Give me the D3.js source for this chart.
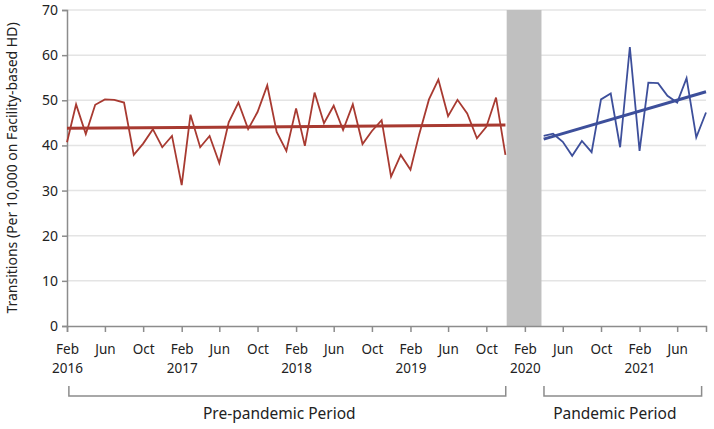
<!DOCTYPE html>
<html>
<head>
<meta charset="utf-8">
<script src="https://cdn.jsdelivr.net/npm/d3@7"></script>
<style>
  body { margin: 0; background: #fff; }
  svg text { font-family: "Noto Sans", "Open Sans", sans-serif; fill: #222; }
</style>
</head>
<body>
<svg width="714" height="429"></svg>
<script>
// monthly values, Feb 2016 .. Dec 2019
const preStart = "2016-02";
const preValues = [40.7, 49.1, 42.5, 49.0, 50.2, 50.1, 49.5, 37.9, 40.4, 43.6, 39.6, 42.1,
  31.2, 46.8, 39.6, 42.1, 36.1, 45.1, 49.5, 43.6, 47.4, 53.3, 43.0, 38.8,
  48.2, 39.9, 51.7, 44.9, 48.8, 43.4, 49.1, 40.3, 43.2, 45.6, 33.1, 37.9,
  34.6, 42.5, 50.2, 54.6, 46.5, 50.1, 47.1, 41.6, 44.1, 50.6, 37.9];
const preTrend = [43.8, 44.5];

// monthly values, Apr 2020 .. Sep 2021
const panStart = "2020-04";
const panValues = [42.1, 42.6, 40.8, 37.7, 41.0, 38.5, 50.2, 51.5, 39.6, 61.8, 38.8, 53.9,
  53.8, 51.0, 49.5, 54.9, 41.8, 47.3];
const panTrend = [41.4, 51.9];

const gapBand = ["2019-12-05", "2020-03-25"];
const periods = [
  { label: "Pre-pandemic Period", start: "2016-02-07", end: "2019-12-02" },
  { label: "Pandemic Period", start: "2020-04-02", end: "2021-08-18" }
];
const yTicks = [0, 10, 20, 30, 40, 50, 60, 70];

const parseMonth = d3.timeParse("%Y-%m");
const parseDay = d3.timeParse("%Y-%m-%d");
const monthSeries = (start, vals) => vals.map((v, i) => ({ date: d3.timeMonth.offset(parseMonth(start), i), value: v }));
const pre = monthSeries(preStart, preValues);
const pan = monthSeries(panStart, panValues);

const svg = d3.select("svg");
const m = { left: 67, right: 8, top: 10, bottom: 103 };
const W = 714, H = 429;

const x = d3.scaleTime()
  .domain([parseMonth("2016-02"), parseMonth("2021-09")])
  .range([m.left, W - m.right]);
const y = d3.scaleLinear().domain([0, 70]).range([H - m.bottom, m.top]);

// grid
svg.append("g").selectAll("line").data(yTicks.filter(d => d > 0)).join("line")
  .attr("x1", m.left).attr("x2", W - m.right)
  .attr("y1", d => y(d)).attr("y2", d => y(d))
  .attr("stroke", "#e4e4e4").attr("stroke-width", 1.5);

// gap band
svg.append("rect")
  .attr("x", x(parseDay(gapBand[0])))
  .attr("width", x(parseDay(gapBand[1])) - x(parseDay(gapBand[0])))
  .attr("y", y(70)).attr("height", y(0) - y(70))
  .attr("fill", "#c0c0c0");

// y axis
const yAxis = svg.append("g").attr("transform", `translate(${m.left},0)`)
  .call(d3.axisLeft(y).tickValues(yTicks).tickSize(5).tickPadding(4));
yAxis.selectAll("text").style("font-size", "14px");
yAxis.selectAll("line, path").attr("stroke", "#8c8c8c").attr("stroke-width", 1.5);

// x axis
const xTicks = d3.timeMonth.range(parseMonth("2016-02"), parseMonth("2021-08"), 4);
const xAxis = svg.append("g").attr("transform", `translate(0,${y(0)})`)
  .call(d3.axisBottom(x).tickValues(xTicks).tickSize(6).tickFormat(""));
xAxis.selectAll("line, path").attr("stroke", "#8c8c8c").attr("stroke-width", 1.5);
xAxis.selectAll(".tick").each(function(d) {
  const g = d3.select(this);
  g.append("text").attr("text-anchor", "middle").attr("y", 28)
    .style("font-size", "13.5px").text(d3.timeFormat("%b")(d));
  if (d.getMonth() === 1) {
    g.append("text").attr("text-anchor", "middle").attr("y", 46.5)
      .style("font-size", "13.5px").text(d.getFullYear());
  }
});

// y title
svg.append("text")
  .attr("transform", `translate(17,${(y(0) + y(70)) / 2}) rotate(-90)`)
  .attr("text-anchor", "middle").style("font-size", "14px")
  .text("Transitions (Per 10,000 on Facility-based HD)");

// series
const line = d3.line().x(d => x(d.date)).y(d => y(d.value));
function drawSeries(data, trend, color) {
  svg.append("path").datum(data).attr("d", line)
    .attr("fill", "none").attr("stroke", color).attr("stroke-width", 1.8).attr("stroke-linejoin", "miter");
  const ends = [
    { date: data[0].date, value: trend[0] },
    { date: data[data.length - 1].date, value: trend[1] }
  ];
  svg.append("path").datum(ends).attr("d", line)
    .attr("fill", "none").attr("stroke", color).attr("stroke-width", 3);
}
drawSeries(pre, preTrend, "#a83a31");
drawSeries(pan, panTrend, "#3d4f9b");

// period brackets
const br = svg.append("g");
periods.forEach(p => {
  const x0 = x(parseDay(p.start)), x1 = x(parseDay(p.end));
  br.append("path")
    .attr("d", `M${x0},386V396H${x1}V386`)
    .attr("fill", "none").attr("stroke", "#8c8c8c").attr("stroke-width", 1.5);
  br.append("text").attr("x", (x0 + x1) / 2 - 8).attr("y", 419)
    .attr("text-anchor", "middle").style("font-size", "15.5px").text(p.label);
});
</script>
</body>
</html>
